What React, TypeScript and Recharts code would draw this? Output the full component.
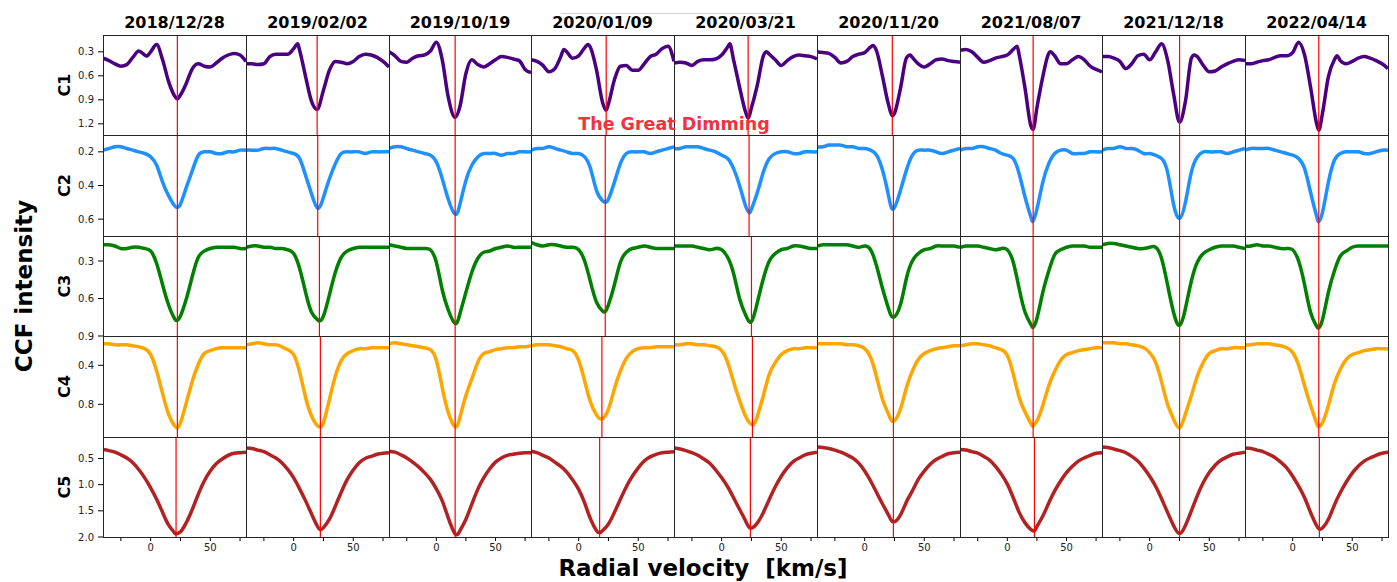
import { LineChart, Line, XAxis, YAxis, ReferenceLine } from 'recharts';

// sample positions (km/s) shared by every panel
const RV_GRID = [-40, -35, -30, -25, -20, -15, -10, -5, 0, 5, 10, 15, 20, 25, 30, 35, 40, 45, 50, 55, 60, 65, 70, 75, 80];
const RV_TICKS = [-25, 0, 25, 50, 75];

const DATES = ['2018/12/28', '2019/02/02', '2019/10/19', '2020/01/09', '2020/03/21', '2020/11/20', '2021/08/07', '2021/12/18', '2022/04/14'];
const ROWS = ['C1', 'C2', 'C3', 'C4', 'C5'];
const ROW_COLORS = ['#4b0082', '#1e90ff', '#008000', '#ffa500', '#b22222'];
const ROW_DOMAINS = [[0.09, 1.34], [0.1, 0.7], [0.1, 0.9], [0.1, 1.135], [0.09, 2.0]];
const ROW_TICKS = [[0.3, 0.6, 0.9, 1.2], [0.2, 0.4, 0.6], [0.3, 0.6, 0.9], [0.4, 0.8], [0.5, 1.0, 1.5, 2.0]];

const C1_CURVES = [
  [0.38, 0.41, 0.45, 0.48, 0.46, 0.37, 0.29, 0.34, 0.30, 0.21, 0.40, 0.67, 0.85, 0.84, 0.69, 0.51, 0.45, 0.48, 0.49, 0.44, 0.38, 0.34, 0.32, 0.34, 0.42],
  [0.45, 0.45, 0.46, 0.45, 0.36, 0.33, 0.33, 0.33, 0.26, 0.28, 0.61, 0.92, 1.01, 0.78, 0.53, 0.42, 0.43, 0.45, 0.42, 0.36, 0.33, 0.34, 0.37, 0.42, 0.49],
  [0.30, 0.35, 0.42, 0.43, 0.38, 0.35, 0.34, 0.29, 0.18, 0.40, 0.86, 1.10, 0.98, 0.57, 0.40, 0.46, 0.49, 0.45, 0.40, 0.36, 0.37, 0.39, 0.41, 0.52, 0.56],
  [0.40, 0.42, 0.47, 0.55, 0.51, 0.36, 0.30, 0.38, 0.35, 0.25, 0.25, 0.53, 0.93, 0.95, 0.65, 0.48, 0.47, 0.53, 0.53, 0.45, 0.36, 0.33, 0.26, 0.23, 0.42],
  [0.44, 0.43, 0.44, 0.47, 0.42, 0.40, 0.40, 0.39, 0.34, 0.24, 0.40, 0.74, 1.05, 1.00, 0.71, 0.35, 0.33, 0.40, 0.47, 0.41, 0.36, 0.34, 0.35, 0.36, 0.39],
  [0.30, 0.31, 0.32, 0.37, 0.44, 0.42, 0.36, 0.33, 0.31, 0.24, 0.29, 0.61, 0.96, 1.07, 0.76, 0.38, 0.37, 0.45, 0.49, 0.45, 0.40, 0.39, 0.41, 0.42, 0.43],
  [0.28, 0.27, 0.30, 0.37, 0.43, 0.41, 0.38, 0.36, 0.34, 0.27, 0.34, 0.76, 1.23, 1.00, 0.61, 0.32, 0.35, 0.45, 0.45, 0.40, 0.36, 0.40, 0.48, 0.52, 0.55],
  [0.36, 0.36, 0.38, 0.42, 0.51, 0.45, 0.35, 0.33, 0.40, 0.30, 0.20, 0.40, 0.82, 1.18, 0.92, 0.38, 0.36, 0.47, 0.55, 0.54, 0.49, 0.45, 0.42, 0.40, 0.41],
  [0.45, 0.45, 0.43, 0.41, 0.40, 0.37, 0.35, 0.35, 0.31, 0.18, 0.34, 0.74, 1.19, 1.07, 0.61, 0.40, 0.41, 0.45, 0.42, 0.38, 0.36, 0.38, 0.41, 0.45, 0.51],
];
// sharp C1 features between grid samples: [rv, value]
const C1_EXTRA = [
  [[-3.3, 0.355]],
  [[3.4, 0.2]],
  [],
  [[-12.4, 0.27], [7.7, 0.21]],
  [[6.8, 0.2], [37.6, 0.3]],
  [[7.3, 0.22], [38.2, 0.34]],
  [[8.3, 0.23], [36.3, 0.3]],
  [[37.4, 0.34]],
  [[37.3, 0.35]],
];
const C1_DIPS = [[22.4, 0.89], [19.7, 1.02], [15.9, 1.12], [23.1, 1.03], [22.2, 1.13], [23.2, 1.1], [21.8, 1.27], [25.1, 1.18], [21.9, 1.28]];

const C2_CURVES = [
  [0.19, 0.18, 0.17, 0.17, 0.18, 0.19, 0.20, 0.21, 0.23, 0.28, 0.38, 0.46, 0.52, 0.51, 0.41, 0.31, 0.22, 0.20, 0.20, 0.21, 0.21, 0.20, 0.20, 0.19, 0.19],
  [0.19, 0.19, 0.19, 0.18, 0.18, 0.18, 0.19, 0.20, 0.21, 0.24, 0.34, 0.45, 0.53, 0.47, 0.36, 0.27, 0.21, 0.20, 0.20, 0.20, 0.21, 0.20, 0.20, 0.20, 0.20],
  [0.18, 0.17, 0.17, 0.18, 0.19, 0.20, 0.21, 0.22, 0.26, 0.36, 0.48, 0.56, 0.51, 0.37, 0.28, 0.23, 0.21, 0.21, 0.21, 0.22, 0.21, 0.21, 0.20, 0.20, 0.20],
  [0.19, 0.18, 0.18, 0.17, 0.18, 0.19, 0.20, 0.21, 0.21, 0.23, 0.30, 0.43, 0.49, 0.48, 0.38, 0.27, 0.21, 0.20, 0.20, 0.20, 0.21, 0.20, 0.19, 0.18, 0.17],
  [0.18, 0.18, 0.17, 0.17, 0.17, 0.18, 0.19, 0.20, 0.22, 0.24, 0.30, 0.40, 0.52, 0.54, 0.44, 0.32, 0.24, 0.21, 0.20, 0.20, 0.21, 0.21, 0.20, 0.20, 0.20],
  [0.17, 0.17, 0.16, 0.16, 0.16, 0.17, 0.17, 0.18, 0.18, 0.19, 0.22, 0.31, 0.46, 0.53, 0.43, 0.31, 0.22, 0.19, 0.19, 0.19, 0.20, 0.21, 0.20, 0.19, 0.18],
  [0.19, 0.18, 0.18, 0.17, 0.17, 0.18, 0.19, 0.21, 0.22, 0.24, 0.33, 0.47, 0.59, 0.54, 0.38, 0.27, 0.21, 0.19, 0.19, 0.21, 0.21, 0.21, 0.20, 0.20, 0.20],
  [0.19, 0.18, 0.18, 0.17, 0.18, 0.18, 0.19, 0.21, 0.21, 0.22, 0.24, 0.32, 0.51, 0.59, 0.50, 0.32, 0.23, 0.20, 0.20, 0.20, 0.20, 0.21, 0.20, 0.19, 0.18],
  [0.19, 0.18, 0.18, 0.18, 0.18, 0.19, 0.20, 0.21, 0.22, 0.24, 0.30, 0.44, 0.58, 0.56, 0.38, 0.25, 0.21, 0.20, 0.20, 0.20, 0.21, 0.21, 0.20, 0.19, 0.19],
];
const C2_DIPS = [[22.4, 0.53], [20.2, 0.535], [15.9, 0.57], [22.3, 0.5], [23.0, 0.56], [24.1, 0.54], [21.8, 0.61], [25.1, 0.595], [21.9, 0.615]];

const C3_CURVES = [
  [0.17, 0.17, 0.18, 0.20, 0.20, 0.19, 0.19, 0.20, 0.22, 0.32, 0.49, 0.65, 0.76, 0.74, 0.60, 0.42, 0.27, 0.22, 0.20, 0.19, 0.19, 0.19, 0.19, 0.20, 0.20],
  [0.19, 0.18, 0.18, 0.19, 0.19, 0.20, 0.20, 0.21, 0.24, 0.36, 0.55, 0.71, 0.77, 0.74, 0.57, 0.39, 0.27, 0.22, 0.20, 0.19, 0.19, 0.19, 0.19, 0.19, 0.19],
  [0.17, 0.18, 0.19, 0.20, 0.20, 0.20, 0.20, 0.21, 0.31, 0.53, 0.69, 0.79, 0.72, 0.55, 0.39, 0.28, 0.23, 0.22, 0.20, 0.19, 0.18, 0.19, 0.19, 0.19, 0.19],
  [0.15, 0.17, 0.18, 0.17, 0.17, 0.18, 0.19, 0.19, 0.21, 0.30, 0.47, 0.63, 0.70, 0.65, 0.49, 0.31, 0.23, 0.20, 0.19, 0.18, 0.19, 0.20, 0.20, 0.20, 0.20],
  [0.18, 0.18, 0.18, 0.18, 0.19, 0.20, 0.21, 0.20, 0.21, 0.27, 0.40, 0.60, 0.73, 0.78, 0.63, 0.44, 0.30, 0.24, 0.21, 0.20, 0.18, 0.18, 0.19, 0.20, 0.20],
  [0.18, 0.17, 0.17, 0.17, 0.17, 0.17, 0.18, 0.19, 0.18, 0.21, 0.34, 0.52, 0.68, 0.74, 0.65, 0.44, 0.30, 0.24, 0.21, 0.20, 0.18, 0.18, 0.18, 0.18, 0.19],
  [0.19, 0.18, 0.18, 0.18, 0.19, 0.20, 0.21, 0.20, 0.21, 0.31, 0.52, 0.71, 0.81, 0.76, 0.55, 0.38, 0.25, 0.21, 0.19, 0.18, 0.18, 0.18, 0.19, 0.19, 0.19],
  [0.17, 0.16, 0.16, 0.17, 0.18, 0.19, 0.20, 0.20, 0.19, 0.19, 0.28, 0.49, 0.71, 0.81, 0.68, 0.46, 0.31, 0.24, 0.21, 0.19, 0.18, 0.18, 0.18, 0.19, 0.20],
  [0.18, 0.18, 0.17, 0.18, 0.18, 0.19, 0.20, 0.20, 0.21, 0.30, 0.49, 0.71, 0.82, 0.77, 0.55, 0.38, 0.26, 0.22, 0.19, 0.18, 0.18, 0.18, 0.18, 0.18, 0.18],
];
const C3_DIPS = [[22.4, 0.775], [21.6, 0.78], [15.9, 0.8], [22.3, 0.705], [25.0, 0.785], [24.1, 0.75], [21.8, 0.83], [25.1, 0.815], [21.9, 0.835]];

const C4_CURVES = [
  [0.18, 0.18, 0.19, 0.19, 0.19, 0.20, 0.21, 0.23, 0.29, 0.46, 0.69, 0.90, 1.02, 0.99, 0.78, 0.56, 0.39, 0.28, 0.25, 0.23, 0.22, 0.22, 0.22, 0.22, 0.22],
  [0.19, 0.18, 0.17, 0.18, 0.19, 0.19, 0.21, 0.24, 0.29, 0.47, 0.73, 0.92, 1.02, 0.99, 0.75, 0.51, 0.35, 0.28, 0.25, 0.23, 0.23, 0.22, 0.22, 0.22, 0.22],
  [0.18, 0.17, 0.18, 0.19, 0.20, 0.21, 0.22, 0.24, 0.35, 0.63, 0.88, 1.02, 0.93, 0.71, 0.54, 0.37, 0.28, 0.26, 0.24, 0.23, 0.22, 0.22, 0.21, 0.21, 0.20],
  [0.20, 0.19, 0.19, 0.19, 0.20, 0.21, 0.23, 0.25, 0.35, 0.56, 0.78, 0.91, 0.94, 0.85, 0.64, 0.46, 0.33, 0.26, 0.23, 0.22, 0.22, 0.21, 0.21, 0.21, 0.21],
  [0.19, 0.19, 0.18, 0.18, 0.19, 0.19, 0.20, 0.21, 0.25, 0.37, 0.57, 0.76, 0.92, 1.00, 0.92, 0.71, 0.49, 0.37, 0.29, 0.25, 0.23, 0.23, 0.22, 0.22, 0.22],
  [0.18, 0.18, 0.18, 0.18, 0.18, 0.19, 0.19, 0.20, 0.23, 0.32, 0.52, 0.75, 0.90, 0.97, 0.85, 0.63, 0.46, 0.34, 0.28, 0.25, 0.23, 0.22, 0.21, 0.20, 0.20],
  [0.20, 0.19, 0.18, 0.18, 0.19, 0.20, 0.22, 0.24, 0.30, 0.49, 0.73, 0.88, 1.00, 0.97, 0.81, 0.61, 0.46, 0.35, 0.29, 0.27, 0.25, 0.24, 0.23, 0.22, 0.22],
  [0.17, 0.17, 0.17, 0.18, 0.18, 0.19, 0.20, 0.22, 0.27, 0.37, 0.57, 0.80, 0.95, 1.03, 0.90, 0.71, 0.51, 0.37, 0.28, 0.25, 0.23, 0.23, 0.22, 0.22, 0.22],
  [0.19, 0.19, 0.18, 0.18, 0.18, 0.19, 0.20, 0.22, 0.27, 0.40, 0.61, 0.81, 0.99, 0.99, 0.81, 0.59, 0.44, 0.34, 0.29, 0.27, 0.25, 0.24, 0.23, 0.23, 0.23],
];
const C4_DIPS = [[22.4, 1.04], [22.4, 1.03], [15.9, 1.03], [19.5, 0.95], [25.8, 1.01], [24.1, 0.975], [21.8, 1.02], [25.1, 1.04], [21.9, 1.03]];

const C5_CURVES = [
  [0.33, 0.35, 0.38, 0.43, 0.49, 0.58, 0.71, 0.87, 1.06, 1.28, 1.53, 1.77, 1.92, 1.90, 1.72, 1.47, 1.18, 0.93, 0.74, 0.60, 0.51, 0.44, 0.40, 0.39, 0.38],
  [0.30, 0.31, 0.34, 0.37, 0.43, 0.49, 0.58, 0.71, 0.87, 1.08, 1.31, 1.56, 1.80, 1.82, 1.66, 1.41, 1.14, 0.90, 0.72, 0.58, 0.50, 0.46, 0.42, 0.40, 0.39],
  [0.36, 0.38, 0.43, 0.49, 0.57, 0.66, 0.77, 0.90, 1.08, 1.31, 1.63, 1.91, 1.88, 1.66, 1.37, 1.09, 0.87, 0.70, 0.57, 0.49, 0.44, 0.42, 0.40, 0.39, 0.39],
  [0.36, 0.39, 0.44, 0.49, 0.57, 0.65, 0.76, 0.91, 1.09, 1.35, 1.66, 1.88, 1.88, 1.75, 1.53, 1.28, 1.04, 0.84, 0.68, 0.55, 0.47, 0.42, 0.39, 0.38, 0.37],
  [0.30, 0.32, 0.35, 0.39, 0.44, 0.51, 0.59, 0.72, 0.87, 1.04, 1.25, 1.47, 1.69, 1.82, 1.73, 1.53, 1.28, 1.04, 0.84, 0.68, 0.56, 0.49, 0.43, 0.40, 0.38],
  [0.28, 0.29, 0.31, 0.34, 0.38, 0.43, 0.49, 0.59, 0.74, 0.93, 1.15, 1.37, 1.58, 1.69, 1.58, 1.33, 1.12, 0.90, 0.74, 0.61, 0.52, 0.46, 0.41, 0.39, 0.38],
  [0.33, 0.34, 0.37, 0.40, 0.46, 0.53, 0.65, 0.80, 0.99, 1.25, 1.53, 1.73, 1.86, 1.80, 1.60, 1.35, 1.12, 0.93, 0.77, 0.65, 0.55, 0.49, 0.44, 0.40, 0.39],
  [0.28, 0.29, 0.32, 0.35, 0.39, 0.46, 0.55, 0.68, 0.84, 1.03, 1.27, 1.53, 1.78, 1.93, 1.78, 1.50, 1.21, 0.96, 0.77, 0.63, 0.53, 0.47, 0.42, 0.40, 0.38],
  [0.30, 0.31, 0.34, 0.37, 0.42, 0.48, 0.57, 0.68, 0.84, 1.03, 1.25, 1.53, 1.78, 1.83, 1.66, 1.39, 1.15, 0.95, 0.78, 0.65, 0.55, 0.49, 0.44, 0.40, 0.38],
];
const C5_DIPS = [[21.3, 1.94], [22.4, 1.86], [15.9, 1.94], [17.6, 1.92], [24.1, 1.83], [24.1, 1.71], [22.9, 1.88], [25.1, 1.935], [22.4, 1.85]];

const CURVES = [C1_CURVES, C2_CURVES, C3_CURVES, C4_CURVES, C5_CURVES];
const DIPS = [C1_DIPS, C2_DIPS, C3_DIPS, C4_DIPS, C5_DIPS];

// layout of the matplotlib grid
const COL_X = [103, 246, 389, 531, 674, 817, 960, 1102, 1245, 1388];
const ROW_Y = [35, 135, 236, 336, 437, 537];
const YW = 40;
const XH = 30;
const FONT = '"DejaVu Sans", sans-serif';

function panelData(row: number, col: number) {
  const extra = [DIPS[row][col], ...(row === 0 ? C1_EXTRA[col] : [])];
  const pts = RV_GRID.map((rv, i) => ({ rv, v: CURVES[row][col][i] }))
    .filter((p) => extra.every(([x]) => Math.abs(x - p.rv) >= 1));
  extra.forEach(([rv, v]) => pts.push({ rv, v }));
  return pts.sort((a, b) => a.rv - b.rv);
}

function Panel({ row, col }: { row: number; col: number }) {
  const first = col === 0;
  const last = row === ROWS.length - 1;
  const w = COL_X[col + 1] - COL_X[col] + (first ? YW : 0);
  const h = ROW_Y[row + 1] - ROW_Y[row] + (last ? XH : 0);
  return (
    <div style={{ position: 'absolute', left: COL_X[col] - (first ? YW : 0), top: ROW_Y[row] }}>
      <LineChart width={w} height={h} data={panelData(row, col)} margin={{ top: 0, right: 0, bottom: 0, left: 0 }}>
        <XAxis
          type="number"
          dataKey="rv"
          domain={[-40, 80]}
          allowDataOverflow
          hide={!last}
          height={XH}
          ticks={RV_TICKS}
          interval={0}
          tickFormatter={(v) => (v === 0 || v === 50 ? String(v) : '')}
          axisLine={false}
          tickLine={{ stroke: '#000' }}
          tickSize={4}
          tickMargin={3}
          tick={{ fontSize: 10, fill: '#222', fontFamily: FONT }}
        />
        <YAxis
          type="number"
          domain={ROW_DOMAINS[row]}
          allowDataOverflow
          reversed
          hide={!first}
          width={YW}
          ticks={ROW_TICKS[row]}
          interval={0}
          tickFormatter={(v) => v.toFixed(1)}
          axisLine={false}
          tickLine={{ stroke: '#000' }}
          tickSize={5}
          tickMargin={4}
          tick={{ fontSize: 10, fill: '#222', fontFamily: FONT }}
        />
        <Line
          type={row === 0 ? 'monotone' : 'natural'}
          dataKey="v"
          stroke={ROW_COLORS[row]}
          strokeWidth={3.5}
          dot={false}
          isAnimationActive={false}
        />
        <ReferenceLine x={DIPS[row][col][0]} stroke="#ff0000" strokeWidth={1.2} />
      </LineChart>
    </div>
  );
}

export default function App() {
  const rowCenter = (r: number) => (ROW_Y[r] + ROW_Y[r + 1]) / 2;
  return (
    <div style={{ position: 'absolute', left: 0, top: 0, width: 1397, height: 582, background: '#fff', overflow: 'hidden', fontFamily: FONT }}>
      <style>{'.recharts-surface { overflow: visible; }'}</style>
      {ROWS.map((_, r) => DATES.map((__, c) => <Panel key={`${r}-${c}`} row={r} col={c} />))}
      <svg width={1397} height={582} style={{ position: 'absolute', left: 0, top: 0, pointerEvents: 'none' }}>
        <line x1={561} y1={13.5} x2={783} y2={13.5} stroke="#d0d0d0" strokeWidth={1} />
        {ROWS.map((_, r) =>
          DATES.map((__, c) => (
            <rect
              key={`f${r}-${c}`}
              x={COL_X[c] + 0.5}
              y={ROW_Y[r] + 0.5}
              width={COL_X[c + 1] - COL_X[c]}
              height={ROW_Y[r + 1] - ROW_Y[r]}
              fill="none"
              stroke="#262626"
              strokeWidth={1}
            />
          ))
        )}
        {DATES.map((d, c) => (
          <text key={d} x={(COL_X[c] + COL_X[c + 1]) / 2} y={28} textAnchor="middle" fontSize={16} fontWeight="bold" fontFamily={FONT} fill="#000">
            {d}
          </text>
        ))}
        {ROWS.map((name, r) => (
          <text key={name} transform={`translate(69.5, ${rowCenter(r)}) rotate(-90)`} textAnchor="middle" fontSize={16} fontWeight="bold" fontFamily={FONT} fill="#000">
            {name}
          </text>
        ))}
        <text transform="translate(32, 286) rotate(-90)" textAnchor="middle" fontSize={23} fontWeight="bold" fontFamily={FONT} fill="#000">
          CCF intensity
        </text>
        <text x={703} y={576} textAnchor="middle" fontSize={23} fontWeight="bold" fontFamily={FONT} fill="#000" style={{ whiteSpace: 'pre' }}>
          {'Radial velocity  [km/s]'}
        </text>
        <text x={674} y={130} textAnchor="middle" fontSize={17.5} fontWeight="bold" fontFamily={FONT} fill="#f0333f">
          The Great Dimming
        </text>
      </svg>
    </div>
  );
}
